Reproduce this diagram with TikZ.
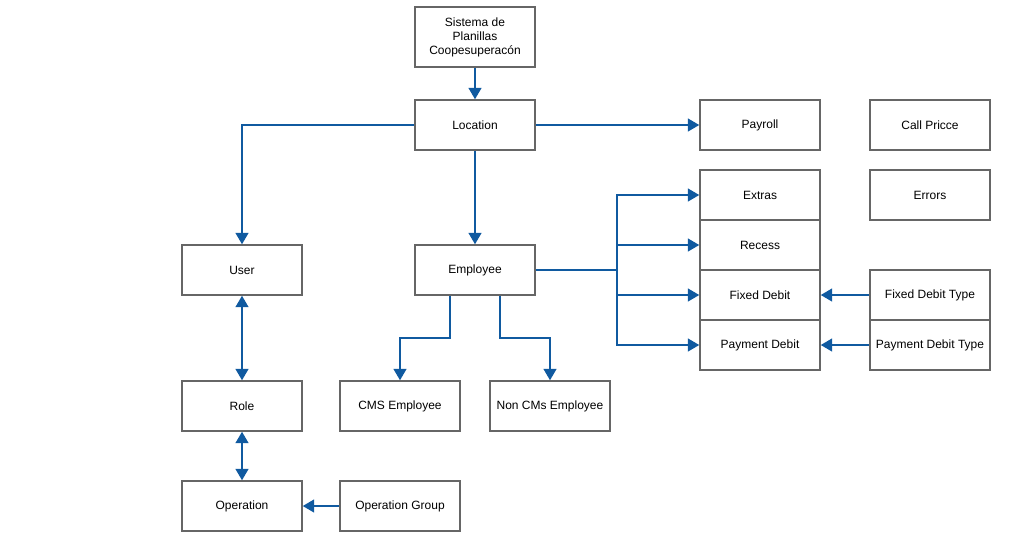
\documentclass[tikz,border=0pt]{standalone}
\usepackage{fontspec}
\setmainfont{Liberation Sans}
\usetikzlibrary{arrows.meta}
\definecolor{lnblue}{RGB}{16,90,160}
\definecolor{bxgray}{RGB}{102,102,102}
\begin{document}
\begin{tikzpicture}[x=0.75pt,y=-0.75pt,
  box/.style={draw=bxgray,line width=1.1pt,fill=white,minimum width=90pt,minimum height=37.5pt,inner sep=1pt,font=\fontsize{9}{10.5}\selectfont,align=center,anchor=center},
  conn/.style={draw=lnblue,line width=1.5pt,-{Triangle[length=8.5pt,width=9.5pt]}},
  bconn/.style={draw=lnblue,line width=1.5pt,{Triangle[length=8.5pt,width=9.5pt]}-{Triangle[length=8.5pt,width=9.5pt]}}]
\useasboundingbox (0,0) rectangle (1010,551);
\fill[white] (0,0) rectangle (1010,551);
% nodes
\node[box,minimum height=45pt] (sis) at (475,37) {Sistema de\\Planillas\\Coopesuperacón};
\node[box] (loc) at (475,125) {Location};
\node[box] (pay) at (760,125) {Payroll};
\node[box] (call) at (930,125) {Call Pricce};
\node[box] (ext) at (760,195) {Extras};
\node[box] (err) at (930,195) {Errors};
\node[box] (rec) at (760,245) {Recess};
\node[box] (fd) at (760,295) {Fixed Debit};
\node[box] (pd) at (760,345) {Payment Debit};
\node[box] (fdt) at (930,295) {Fixed Debit Type};
\node[box] (pdt) at (930,345) {Payment Debit Type};
\node[box] (user) at (242,270) {User};
\node[box] (emp) at (475,270) {Employee};
\node[box] (cms) at (400,406) {CMS Employee};
\node[box] (ncms) at (550,406) {Non CMs Employee};
\node[box] (role) at (242,406) {Role};
\node[box] (op) at (242,506) {Operation};
\node[box] (opg) at (400,506) {Operation Group};
\coordinate (br) at (617,270);
% connectors
\draw[conn] (sis) -- (loc);
\draw[conn] (loc) -- (pay);
\draw[conn] (loc) -- (emp);
\draw[conn] (loc.west) -| (user.north);
\draw[conn] (emp.east) -- (br) |- (ext.west);
\draw[conn] (br) |- (rec.west);
\draw[conn] (br) |- (fd.west);
\draw[conn] (br) |- (pd.west);
\draw[conn] (emp.south -| 450,0) -- (450,338) -| (cms.north);
\draw[conn] (emp.south -| 500,0) -- (500,338) -| (ncms.north);
\draw[conn] (fdt) -- (fd);
\draw[conn] (pdt) -- (pd);
\draw[bconn] (user) -- (role);
\draw[bconn] (role) -- (op);
\draw[conn] (opg) -- (op);
\end{tikzpicture}
\end{document}
